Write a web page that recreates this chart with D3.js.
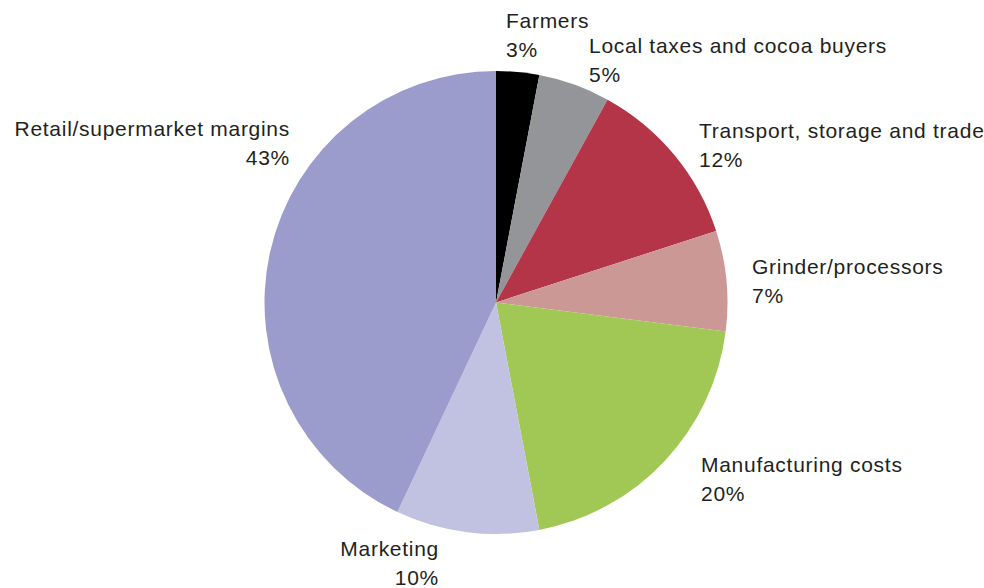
<!DOCTYPE html>
<html><head><meta charset="utf-8">
<script src="https://cdn.jsdelivr.net/npm/d3@7"></script>
<style>html,body{margin:0;padding:0;background:#fff;}</style>
</head><body>
<svg id="chart" width="984" height="588"></svg>
<script>
const categories = ["Farmers","Local taxes and cocoa buyers","Transport, storage and trade","Grinder/processors","Manufacturing costs","Marketing","Retail/supermarket margins"];
const values = [3,5,12,7,20,10,43];
const colors = ["#000000","#939598","#b43548","#cc9896","#a1c854","#c1c1e1","#9b9bcc"];
// label anchor positions (pixel layout)
const labelPos = [
  {x:506,y:28,anchor:"start"},
  {x:589,y:53,anchor:"start"},
  {x:699,y:138,anchor:"start"},
  {x:752,y:274,anchor:"start"},
  {x:701,y:472,anchor:"start"},
  {x:439,y:556,anchor:"end"},
  {x:290,y:136,anchor:"end"}
];
const svg = d3.select("#chart");
const cx = 496, cy = 302.5, r = 231.5;
const pie = d3.pie().sort(null).value(d=>d.v);
const data = categories.map((c,i)=>({c, v:values[i], col:colors[i]}));
const arc = d3.arc().innerRadius(0).outerRadius(r);
const g = svg.append("g").attr("transform",`translate(${cx},${cy})`);
g.selectAll("path").data(pie(data)).join("path").attr("d",arc).attr("fill",d=>d.data.col);
const t = svg.append("g").attr("font-family","'Liberation Sans', Arial, sans-serif").attr("font-size",21).attr("letter-spacing",0.72).attr("fill","#231f20");
data.forEach((d,i)=>{
  const p = labelPos[i];
  const txt = t.append("text").attr("x",p.x).attr("y",p.y).attr("text-anchor",p.anchor);
  txt.append("tspan").attr("x",p.x).text(d.c);
  txt.append("tspan").attr("x",p.x).attr("dy",28.5).text(d.v+"%");
});
</script>
</body></html>
